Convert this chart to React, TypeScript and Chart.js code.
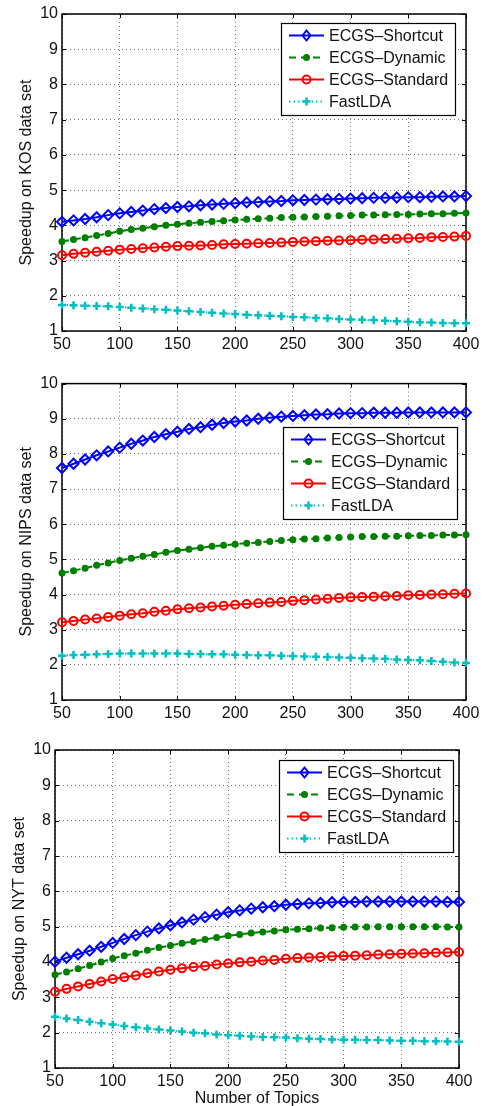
import React, { useEffect, useRef } from 'react';
import { Chart, registerables } from 'chart.js';

Chart.register(...registerables);

// ---------- data ----------
const topics = [50, 60, 70, 80, 90, 100, 110, 120, 130, 140, 150, 160, 170, 180, 190, 200, 210, 220, 230, 240, 250, 260, 270, 280, 290, 300, 310, 320, 330, 340, 350, 360, 370, 380, 390, 400];
const xTickValues = [50, 100, 150, 200, 250, 300, 350, 400];
const yTickValues = [1, 2, 3, 4, 5, 6, 7, 8, 9, 10];
const seriesNames = ['ECGS\u2013Shortcut', 'ECGS\u2013Dynamic', 'ECGS\u2013Standard', 'FastLDA'];

const kosShortcut = [4.10, 4.14, 4.18, 4.23, 4.29, 4.34, 4.38, 4.42, 4.46, 4.49, 4.52, 4.54, 4.57, 4.59, 4.61, 4.63, 4.65, 4.66, 4.68, 4.69, 4.71, 4.72, 4.73, 4.74, 4.75, 4.76, 4.77, 4.78, 4.78, 4.79, 4.80, 4.80, 4.81, 4.82, 4.82, 4.83];
const kosDynamic = [3.54, 3.60, 3.65, 3.71, 3.77, 3.83, 3.88, 3.92, 3.96, 4.00, 4.03, 4.06, 4.09, 4.11, 4.13, 4.15, 4.17, 4.19, 4.20, 4.22, 4.23, 4.24, 4.25, 4.26, 4.27, 4.28, 4.29, 4.29, 4.30, 4.31, 4.31, 4.32, 4.33, 4.33, 4.34, 4.35];
const kosStandard = [3.15, 3.19, 3.22, 3.25, 3.28, 3.31, 3.33, 3.35, 3.37, 3.39, 3.41, 3.42, 3.43, 3.44, 3.46, 3.47, 3.48, 3.49, 3.50, 3.51, 3.53, 3.54, 3.55, 3.56, 3.57, 3.58, 3.59, 3.60, 3.61, 3.62, 3.63, 3.64, 3.66, 3.67, 3.68, 3.70];
const kosFastLDA = [1.74, 1.73, 1.72, 1.71, 1.70, 1.68, 1.66, 1.64, 1.62, 1.60, 1.58, 1.56, 1.54, 1.52, 1.50, 1.48, 1.46, 1.45, 1.43, 1.42, 1.40, 1.39, 1.37, 1.36, 1.34, 1.33, 1.32, 1.31, 1.29, 1.28, 1.26, 1.25, 1.24, 1.23, 1.22, 1.22];

const nipsShortcut = [7.60, 7.72, 7.84, 7.96, 8.07, 8.18, 8.29, 8.38, 8.48, 8.56, 8.63, 8.71, 8.76, 8.83, 8.88, 8.92, 8.95, 9.00, 9.03, 9.06, 9.08, 9.10, 9.12, 9.13, 9.15, 9.16, 9.16, 9.17, 9.17, 9.17, 9.18, 9.18, 9.18, 9.18, 9.18, 9.18];
const nipsDynamic = [4.61, 4.68, 4.75, 4.83, 4.90, 4.97, 5.03, 5.09, 5.14, 5.20, 5.25, 5.29, 5.33, 5.37, 5.40, 5.43, 5.46, 5.48, 5.51, 5.54, 5.56, 5.58, 5.59, 5.61, 5.62, 5.64, 5.65, 5.65, 5.66, 5.66, 5.67, 5.68, 5.68, 5.69, 5.69, 5.70];
const nipsStandard = [3.21, 3.25, 3.29, 3.32, 3.36, 3.40, 3.44, 3.47, 3.51, 3.54, 3.58, 3.61, 3.63, 3.66, 3.68, 3.71, 3.73, 3.75, 3.77, 3.79, 3.82, 3.84, 3.86, 3.88, 3.90, 3.92, 3.93, 3.94, 3.95, 3.96, 3.98, 3.99, 4.00, 4.01, 4.02, 4.03];
const nipsFastLDA = [2.26, 2.28, 2.29, 2.30, 2.31, 2.32, 2.32, 2.32, 2.32, 2.32, 2.32, 2.31, 2.31, 2.30, 2.30, 2.29, 2.28, 2.27, 2.27, 2.26, 2.25, 2.24, 2.23, 2.22, 2.21, 2.20, 2.19, 2.18, 2.17, 2.15, 2.14, 2.13, 2.11, 2.09, 2.07, 2.05];

const nytShortcut = [4.01, 4.12, 4.22, 4.32, 4.43, 4.54, 4.65, 4.76, 4.86, 4.95, 5.04, 5.12, 5.20, 5.27, 5.34, 5.41, 5.46, 5.51, 5.55, 5.58, 5.62, 5.64, 5.66, 5.67, 5.69, 5.70, 5.70, 5.71, 5.71, 5.71, 5.71, 5.71, 5.71, 5.71, 5.70, 5.70];
const nytDynamic = [3.64, 3.72, 3.81, 3.90, 4.00, 4.10, 4.18, 4.25, 4.33, 4.41, 4.47, 4.53, 4.58, 4.64, 4.69, 4.74, 4.78, 4.82, 4.85, 4.88, 4.91, 4.93, 4.94, 4.96, 4.97, 4.98, 4.99, 4.99, 5.00, 5.00, 5.00, 5.00, 5.00, 5.00, 4.99, 4.99];
const nytStandard = [3.16, 3.24, 3.31, 3.38, 3.45, 3.52, 3.57, 3.62, 3.68, 3.73, 3.78, 3.82, 3.86, 3.89, 3.93, 3.96, 3.99, 4.01, 4.04, 4.06, 4.09, 4.11, 4.13, 4.14, 4.16, 4.17, 4.18, 4.19, 4.21, 4.22, 4.23, 4.24, 4.25, 4.26, 4.27, 4.28];
const nytFastLDA = [2.45, 2.40, 2.36, 2.31, 2.27, 2.23, 2.19, 2.15, 2.12, 2.09, 2.06, 2.03, 2.00, 1.98, 1.95, 1.93, 1.91, 1.89, 1.88, 1.87, 1.86, 1.84, 1.83, 1.82, 1.81, 1.80, 1.80, 1.79, 1.79, 1.78, 1.77, 1.77, 1.76, 1.76, 1.75, 1.74];

// ---------- styles ----------
const FONT = '"Liberation Sans", Arial, Helvetica, sans-serif';
const TEXT = '#111';
const seriesStyles = [
  { color: '#0000FF', dash: [] as number[], marker: 'diamond' },
  { color: '#008000', dash: [7, 5], marker: 'dot' },
  { color: '#FF0000', dash: [] as number[], marker: 'circle' },
  { color: '#00BFBF', dash: [1.5, 3], marker: 'plus' },
];

type PanelCfg = {
  top: number; height: number; canvasHeight: number;
  plotLeft: number; plotRight: number; plotTop: number; plotBottom: number;
  yTitle: string; yTitlePad: number; xTitle: string | null;
  legendDx: number; legendDy: number;
  series: number[][];
};

const panels: PanelCfg[] = [
  { top: 0, height: 370, canvasHeight: 370, plotLeft: 62, plotRight: 466, plotTop: 14, plotBottom: 331,
    yTitle: 'Speedup on KOS data set', yTitlePad: 17, xTitle: null, legendDx: 11, legendDy: 9,
    series: [kosShortcut, kosDynamic, kosStandard, kosFastLDA] },
  { top: 370, height: 366, canvasHeight: 366, plotLeft: 62, plotRight: 466, plotTop: 12, plotBottom: 330,
    yTitle: 'Speedup on NIPS data set', yTitlePad: 17, xTitle: null, legendDx: 9, legendDy: 43,
    series: [nipsShortcut, nipsDynamic, nipsStandard, nipsFastLDA] },
  { top: 736, height: 370, canvasHeight: 372, plotLeft: 55, plotRight: 459, plotTop: 14, plotBottom: 332,
    yTitle: 'Speedup on NYT data set', yTitlePad: 9.5, xTitle: 'Number of Topics', legendDx: 6, legendDy: 10,
    series: [nytShortcut, nytDynamic, nytStandard, nytFastLDA] },
];

function drawMarker(ctx: CanvasRenderingContext2D, kind: string, x: number, y: number, color: string) {
  ctx.save();
  ctx.setLineDash([]);
  ctx.strokeStyle = color;
  ctx.fillStyle = color;
  ctx.beginPath();
  if (kind === 'diamond') {
    ctx.lineWidth = 2;
    ctx.moveTo(x, y - 5); ctx.lineTo(x + 4, y); ctx.lineTo(x, y + 5); ctx.lineTo(x - 4, y); ctx.closePath();
    ctx.stroke();
  } else if (kind === 'dot') {
    ctx.arc(x, y, 3.5, 0, Math.PI * 2); ctx.fill();
  } else if (kind === 'circle') {
    ctx.lineWidth = 2;
    ctx.arc(x, y, 4, 0, Math.PI * 2); ctx.stroke();
  } else {
    ctx.lineWidth = 2.5;
    ctx.moveTo(x - 4, y); ctx.lineTo(x + 4, y); ctx.moveTo(x, y - 4); ctx.lineTo(x, y + 4);
    ctx.stroke();
  }
  ctx.restore();
}

const framePlugin = {
  id: 'frameBox',
  beforeDatasetsDraw(chart: any) {
    const { ctx, chartArea } = chart;
    const { left, right, top, bottom } = chartArea;
    const xs = chart.scales.x, ys = chart.scales.y;
    ctx.save();
    ctx.strokeStyle = '#000';
    ctx.lineWidth = 1.5;
    ctx.setLineDash([]);
    ctx.strokeRect(left, top, right - left, bottom - top);
    ctx.lineWidth = 1;
    ctx.beginPath();
    xTickValues.forEach((v) => {
      const px = Math.round(xs.getPixelForValue(v)) + 0.5;
      ctx.moveTo(px, bottom); ctx.lineTo(px, bottom - 4);
      ctx.moveTo(px, top); ctx.lineTo(px, top + 4);
    });
    yTickValues.forEach((v) => {
      const py = Math.round(ys.getPixelForValue(v)) + 0.5;
      ctx.moveTo(left, py); ctx.lineTo(left + 4, py);
      ctx.moveTo(right, py); ctx.lineTo(right - 4, py);
    });
    ctx.stroke();
    ctx.restore();
  },
};

const legendPlugin = {
  id: 'boxLegend',
  afterDatasetsDraw(chart: any, _args: any, opts: any) {
    const { ctx, chartArea } = chart;
    const w = 174, h = 92;
    const bx = Math.round(chartArea.right - opts.dx - w);
    const by = Math.round(chartArea.top + opts.dy);
    ctx.save();
    ctx.fillStyle = '#fff';
    ctx.fillRect(bx, by, w, h);
    ctx.strokeStyle = '#000';
    ctx.lineWidth = 1.2;
    ctx.setLineDash([]);
    ctx.strokeRect(bx + 0.5, by + 0.5, w, h);
    seriesNames.forEach((name, i) => {
      const st = seriesStyles[i];
      const cy = by + 12.5 + i * 22;
      ctx.beginPath();
      ctx.strokeStyle = st.color;
      ctx.lineWidth = 2;
      ctx.setLineDash(st.dash);
      ctx.moveTo(bx + 8, cy); ctx.lineTo(bx + 43, cy);
      ctx.stroke();
      drawMarker(ctx, st.marker, bx + 25.5, cy, st.color);
      ctx.setLineDash([]);
      ctx.fillStyle = TEXT;
      ctx.font = `16px ${FONT}`;
      ctx.textBaseline = 'middle';
      ctx.textAlign = 'left';
      ctx.fillText(name, bx + 48, cy + 1);
    });
    ctx.restore();
  },
};

function pointStyleFor(kind: string) {
  if (kind === 'diamond') return { pointStyle: 'rectRot', pointRadius: 5, pointBorderWidth: 2, fill: 'rgba(0,0,0,0)' };
  if (kind === 'dot') return { pointStyle: 'circle', pointRadius: 3.5, pointBorderWidth: 0, fill: null };
  if (kind === 'circle') return { pointStyle: 'circle', pointRadius: 4, pointBorderWidth: 2, fill: 'rgba(0,0,0,0)' };
  return { pointStyle: 'cross', pointRadius: 4, pointBorderWidth: 2.5, fill: null };
}

function Panel({ cfg }: { cfg: PanelCfg }) {
  const ref = useRef<HTMLCanvasElement>(null);
  useEffect(() => {
    if (!ref.current) return;
    const datasets = cfg.series.map((vals, i) => {
      const st = seriesStyles[i];
      const ps = pointStyleFor(st.marker);
      return {
        label: seriesNames[i],
        data: topics.map((t, k) => ({ x: t, y: vals[k] })),
        borderColor: st.color,
        borderWidth: 2,
        borderDash: st.dash,
        pointStyle: ps.pointStyle,
        pointRadius: ps.pointRadius,
        pointBorderWidth: ps.pointBorderWidth,
        pointBorderColor: st.color,
        pointBackgroundColor: ps.fill ?? st.color,
        pointHoverRadius: ps.pointRadius,
        tension: 0,
        fill: false,
        clip: false as any,
      };
    });
    const tickFont = { family: FONT, size: 16 };
    const chart = new Chart(ref.current, {
      type: 'line',
      data: { datasets: datasets as any },
      plugins: [framePlugin, legendPlugin],
      options: {
        responsive: false,
        animation: false,
        devicePixelRatio: 1,
        events: [],
        layout: { padding: { left: 0, right: 487 - cfg.plotRight, top: cfg.plotTop, bottom: 0 } },
        plugins: {
          legend: { display: false },
          tooltip: { enabled: false },
          boxLegend: { dx: cfg.legendDx, dy: cfg.legendDy },
        } as any,
        scales: {
          x: {
            type: 'linear',
            min: 50,
            max: 400,
            afterBuildTicks: (s: any) => { s.ticks = xTickValues.map((v) => ({ value: v })); },
            afterFit: (s: any) => { s.height = cfg.canvasHeight - cfg.plotBottom; },
            grid: { color: 'rgba(0,0,0,0.55)', lineWidth: 1, drawTicks: false },
            border: { display: false, dash: [1, 3] },
            ticks: { font: tickFont, color: TEXT, padding: 4, maxRotation: 0, autoSkip: false },
            title: cfg.xTitle
              ? { display: true, text: cfg.xTitle, font: tickFont, color: TEXT, padding: { top: 0, bottom: 0 } }
              : { display: false },
          },
          y: {
            type: 'linear',
            min: 1,
            max: 10,
            afterBuildTicks: (s: any) => { s.ticks = yTickValues.map((v) => ({ value: v })); },
            afterFit: (s: any) => { s.width = cfg.plotLeft; },
            grid: { color: 'rgba(0,0,0,0.55)', lineWidth: 1, drawTicks: false },
            border: { display: false, dash: [1, 3] },
            ticks: { font: tickFont, color: TEXT, padding: 4 },
            title: { display: true, text: cfg.yTitle, font: tickFont, color: TEXT, padding: { top: cfg.yTitlePad, bottom: 0 } },
          },
        },
      } as any,
    });
    return () => chart.destroy();
  }, [cfg]);
  return (
    <div style={{ position: 'absolute', left: 0, top: cfg.top, width: 487, height: cfg.height, overflow: 'hidden' }}>
      <canvas ref={ref} width={487} height={cfg.canvasHeight} style={{ display: 'block', width: 487, height: cfg.canvasHeight }} />
    </div>
  );
}

export default function App() {
  return (
    <div style={{ position: 'absolute', left: 0, top: 0, width: 487, height: 1106, overflow: 'hidden', background: '#fff' }}>
      {panels.map((p, i) => (
        <Panel key={i} cfg={p} />
      ))}
    </div>
  );
}
